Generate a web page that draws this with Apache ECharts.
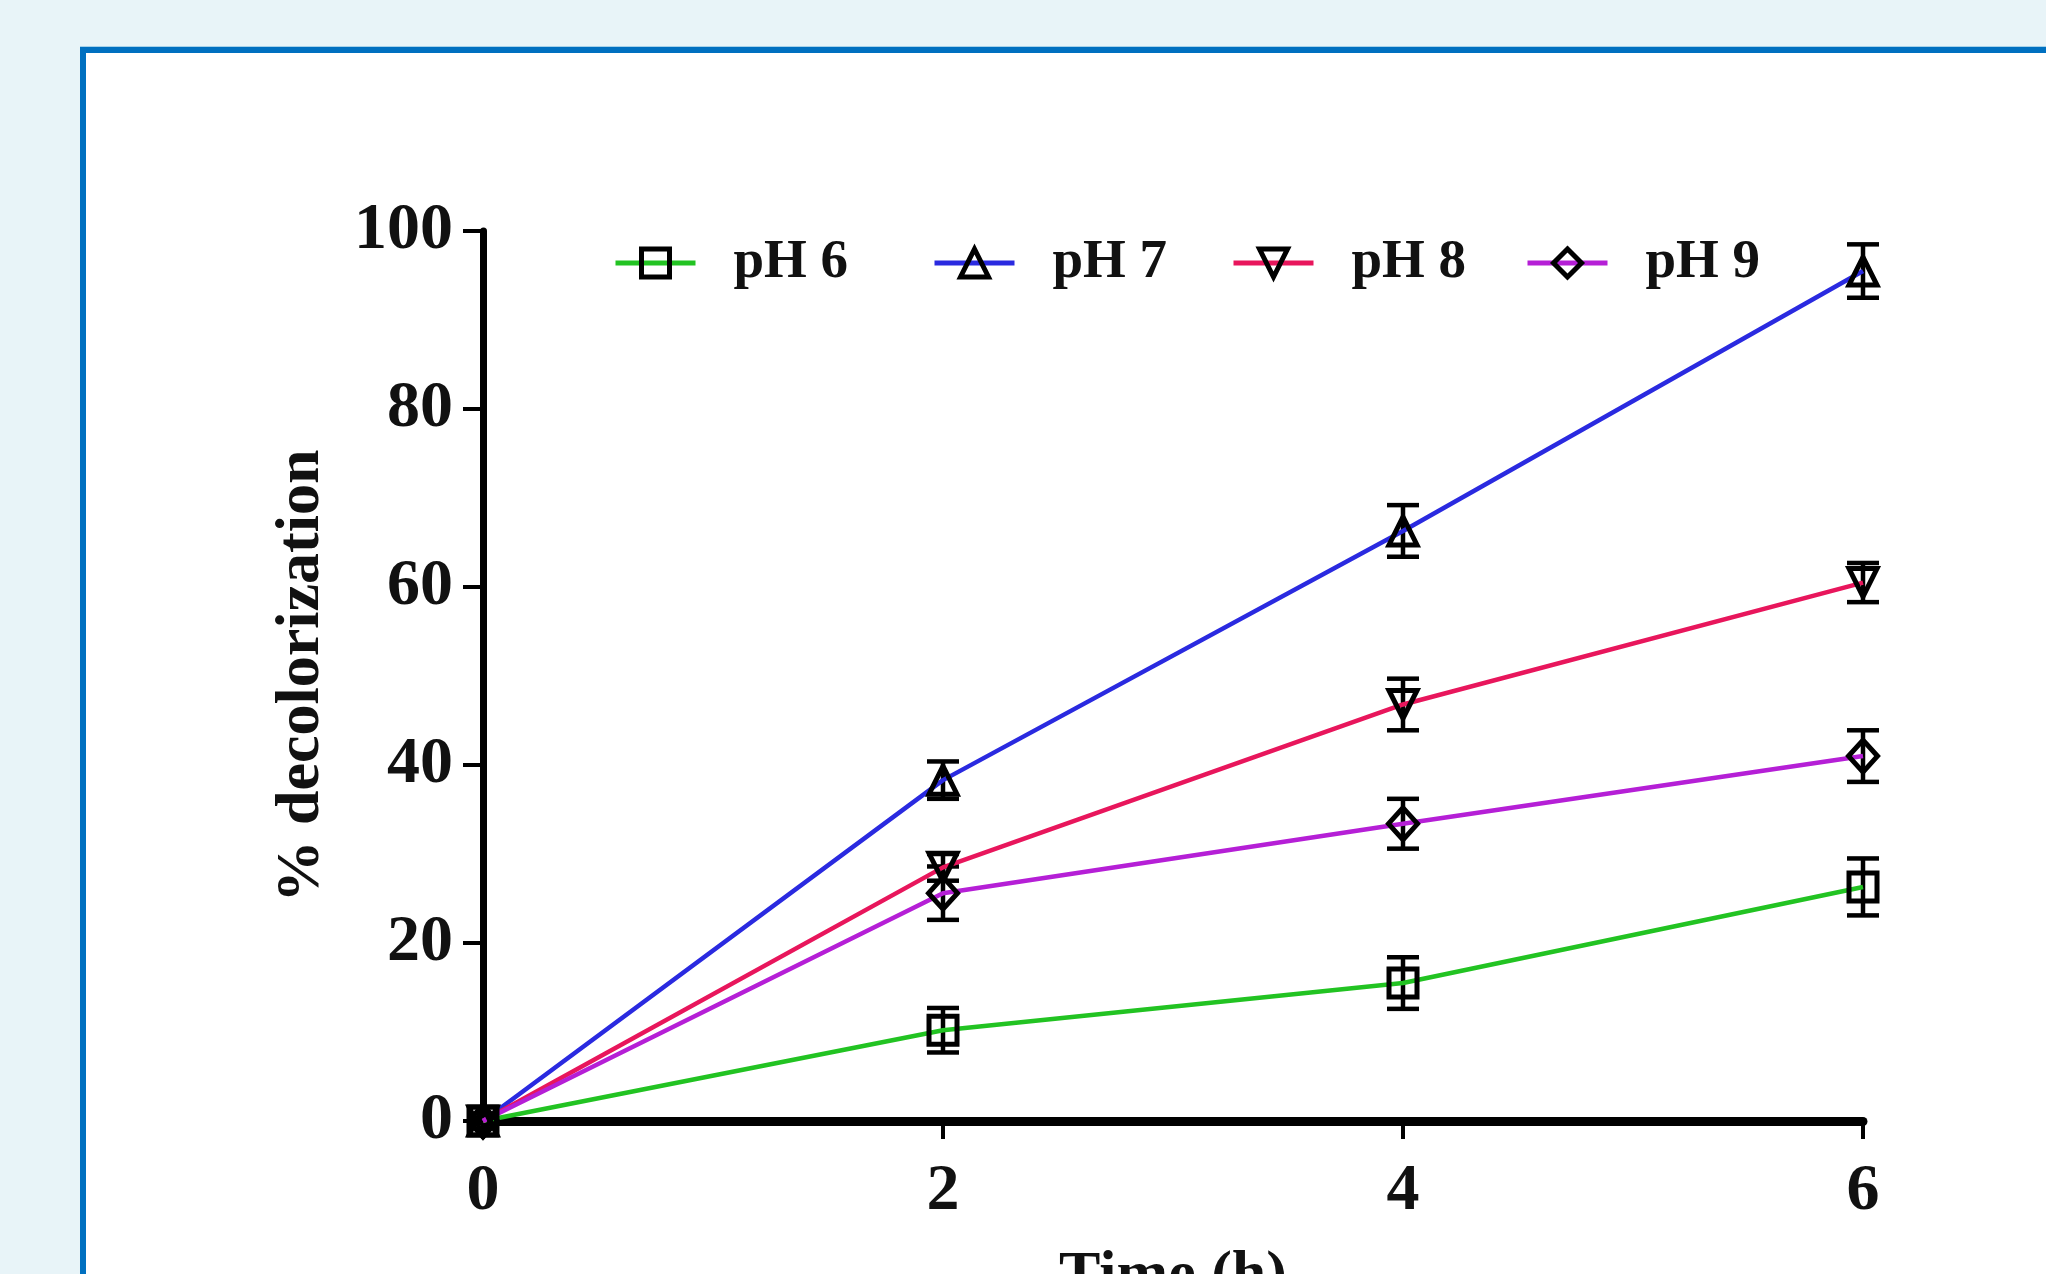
<!DOCTYPE html>
<html>
<head>
<meta charset="utf-8">
<script src="https://cdn.jsdelivr.net/npm/echarts@6/dist/echarts.min.js"></script>
<style>
  html, body { margin: 0; padding: 0; width: 2046px; height: 1274px; overflow: hidden; background: #e8f4f8; }
  #panel { position: absolute; left: 80px; top: 47px; width: 2100px; height: 1400px; background: #ffffff;
           border-top: 6px solid #0070c0; border-left: 6px solid #0070c0; box-shadow: 0 -1px 0 #a6d2ea; }
  #chart { position: absolute; left: 0; top: 0; width: 2046px; height: 1274px; }
</style>
</head>
<body>
<div id="panel"></div>
<div id="chart"></div>
<script>
const times = [0, 2, 4, 6];
const seriesNames = ['pH 6', 'pH 7', 'pH 8', 'pH 9'];
const pH6 = [0, 10.2, 15.5, 26.3];
const pH7 = [0, 38.3, 66.3, 95.5];
const pH8 = [0, 28.5, 46.8, 60.5];
const pH9 = [0, 25.6, 33.4, 41.0];
const err6 = [0, 2.5, 2.9, 3.2];
const err7 = [0, 2.1, 2.9, 3.0];
const err8 = [0, 1.5, 2.9, 2.2];
const err9 = [0, 3.0, 2.8, 2.9];
const xTicks = [0, 2, 4, 6];
const yTicks = [0, 20, 40, 60, 80, 100];

const values = [pH6, pH7, pH8, pH9];
const errors = [err6, err7, err8, err9];
const colors = ['#22c322', '#2a2ae0', '#e8165c', '#b51fd6'];
const symbols = ['rect', 'triangle', 'triangle', 'diamond'];
const rotations = [0, 0, 180, 0];
const legendLeft = [613, 932, 1231, 1525];

const FONT = '"Liberation Serif", "Times New Roman", serif';

const chart = echarts.init(document.getElementById('chart'), null, { renderer: 'canvas' });

const lineSeries = seriesNames.map((name, i) => ({
  name: name,
  type: 'line',
  data: times.map((t, j) => [t, values[i][j]]),
  symbol: symbols[i],
  symbolRotate: rotations[i],
  symbolSize: symbols[i] === 'diamond' ? [29, 32] : 28,
  showAllSymbol: true,
  z: 5,
  lineStyle: { color: colors[i], width: 4.5 },
  itemStyle: { color: 'rgba(0,0,0,0)', borderColor: '#000', borderWidth: 5 },
  emphasis: { disabled: true },
  animation: false
}));

const errSeries = seriesNames.map((name, i) => ({
  name: name + ' err',
  type: 'custom',
  z: 4,
  data: times.map((t, j) => [t, values[i][j] - errors[i][j], values[i][j] + errors[i][j]]),
  renderItem: function (params, api) {
    const x = api.value(0);
    const lo = api.coord([x, api.value(1)]);
    const hi = api.coord([x, api.value(2)]);
    const hw = 16;
    const st = { stroke: '#000', lineWidth: 4.5 };
    return {
      type: 'group',
      children: [
        { type: 'line', shape: { x1: lo[0], y1: lo[1], x2: hi[0], y2: hi[1] }, style: st },
        { type: 'line', shape: { x1: lo[0] - hw, y1: lo[1], x2: lo[0] + hw, y2: lo[1] }, style: st },
        { type: 'line', shape: { x1: hi[0] - hw, y1: hi[1], x2: hi[0] + hw, y2: hi[1] }, style: st }
      ]
    };
  },
  silent: true,
  animation: false
}));

const legends = seriesNames.map((name, i) => ({
  data: [name],
  left: legendLeft[i],
  top: 233,
  padding: 0,
  itemWidth: 80,
  itemHeight: 35,
  selectedMode: false,
  lineStyle: { width: 5 },
  itemStyle: { color: 'rgba(0,0,0,0)', borderColor: '#000', borderWidth: 5 },
  textStyle: { fontFamily: FONT, fontWeight: 'bold', fontSize: 55, color: '#111', padding: [0, 0, 0, 33], lineHeight: 60 }
}));

chart.setOption({
  animation: false,
  backgroundColor: 'transparent',
  legend: legends,
  grid: { left: 483, right: 183, top: 231, bottom: 153, containLabel: false, outerBoundsMode: 'none' },
  xAxis: {
    type: 'value', min: xTicks[0], max: xTicks[xTicks.length - 1], interval: 2,
    name: 'Time (h)', nameLocation: 'middle', nameGap: 125,
    nameTextStyle: { fontFamily: FONT, fontWeight: 'bold', fontSize: 62, color: '#111' },
    axisLine: { show: true, onZero: false, lineStyle: { color: '#000', width: 9 } },
    axisTick: { show: true, length: 18, lineStyle: { color: '#000', width: 4 } },
    axisLabel: { margin: 38, fontFamily: FONT, fontWeight: 'bold', fontSize: 66, color: '#111' },
    splitLine: { show: false }
  },
  yAxis: {
    type: 'value', min: yTicks[0], max: yTicks[yTicks.length - 1], interval: 20,
    name: '% decolorization', nameLocation: 'middle', nameGap: 150,
    nameTextStyle: { fontFamily: FONT, fontWeight: 'bold', fontSize: 62, color: '#111' },
    axisLine: { show: true, onZero: false, lineStyle: { color: '#000', width: 7 } },
    axisTick: { show: true, length: 20, lineStyle: { color: '#000', width: 4 } },
    axisLabel: { margin: 30, fontFamily: FONT, fontWeight: 'bold', fontSize: 66, color: '#111' },
    splitLine: { show: false }
  },
  series: [...errSeries, ...lineSeries]
});
</script>
</body>
</html>
